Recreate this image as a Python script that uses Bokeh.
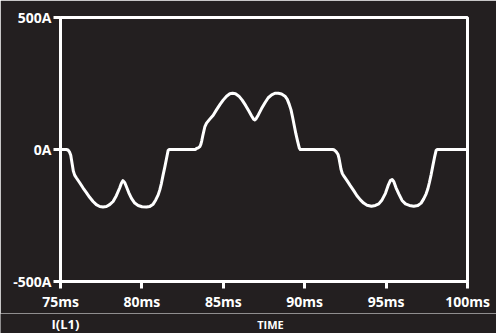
from bokeh.plotting import figure
from bokeh.layouts import column
from bokeh.models import Range1d, FixedTicker
from bokeh.core.properties import value
from bokeh.embed import file_html
from bokeh.resources import INLINE

# Inductor current I(L1) versus time (ms, A)
time_ms = [
    75.0, 75.36, 75.46, 75.56, 75.63, 75.67, 75.73, 75.79, 75.87, 75.97,
    76.18, 76.38, 76.59, 76.79, 77.0, 77.20, 77.41, 77.61, 77.82, 78.02,
    78.23, 78.43, 78.64, 78.74, 78.84, 78.95, 79.05, 79.19, 79.36, 79.56,
    79.77, 80.01, 80.28, 80.48, 80.69, 80.85, 81.0, 81.10, 81.20, 81.30,
    81.41, 81.51, 81.61, 81.67,
    83.29, 83.35, 83.46, 83.56, 83.62, 83.68, 83.74, 83.81, 83.87, 83.97,
    84.17, 84.38, 84.58, 84.79, 84.99, 85.20, 85.40, 85.57, 85.75, 85.96,
    86.16, 86.37, 86.57, 86.74, 86.86, 86.94, 87.02, 87.15, 87.35, 87.56,
    87.76, 87.97, 88.17, 88.38, 88.58, 88.79, 88.93, 89.05, 89.16, 89.26,
    89.36, 89.46, 89.57, 89.67, 89.73,
    91.72, 91.82, 91.94, 92.05, 92.11, 92.17, 92.23, 92.31, 92.42, 92.60,
    92.80, 93.01, 93.21, 93.42, 93.62, 93.83, 94.10, 94.34, 94.55, 94.75,
    94.96, 95.12, 95.26, 95.37, 95.47, 95.61, 95.78, 95.98, 96.19, 96.43,
    96.70, 96.95, 97.15, 97.31, 97.46, 97.56, 97.66, 97.77, 97.87, 97.97,
    98.07, 98.13, 100.0,
]
current_a = [
    0, 0, -2, -10, -22, -37, -60, -82, -97, -107,
    -126, -145, -163, -181, -197, -209, -216, -218, -216, -209,
    -197, -175, -145, -128, -118, -126, -141, -163, -185, -203,
    -212, -217, -218, -216, -207, -191, -172, -153, -128, -97,
    -66, -35, -4, 0,
    0, 4, 6, 11, 19, 34, 52, 71, 87, 100,
    115, 130, 150, 170, 187, 202, 211, 213, 211, 202,
    187, 167, 146, 127, 115, 112, 117, 131, 155, 177,
    196, 207, 213, 213, 210, 202, 190, 171, 150, 121,
    90, 59, 30, 5, 0,
    0, -2, -9, -19, -34, -54, -75, -91, -102, -118,
    -137, -156, -175, -191, -203, -211, -215, -212, -206, -191,
    -166, -137, -118, -114, -121, -145, -168, -193, -206, -212,
    -215, -212, -203, -187, -168, -150, -125, -94, -62, -31,
    -4, 0, 0,
]

x_ticks = [75, 80, 85, 90, 95, 100]
x_tick_labels = ["75ms", "80ms", "85ms", "90ms", "95ms", "100ms"]
y_ticks = [-500, 0, 500]
y_tick_labels = ["-500A", "0A", "500A"]

# Captions under the plot: trace name and x quantity
captions = ["I(L1)", "TIME"]
caption_x = [65, 270]
caption_y = [10, 9]
caption_size = ["13px", "11px"]

BG = "#231f20"
FG = "#ffffff"
FONT = "Open Sans"

p = figure(width=496, height=313, output_backend="svg", toolbar_location=None,
           x_range=Range1d(75, 100), y_range=Range1d(-500, 500),
           min_border_left=60, min_border_right=29, min_border_top=17,
           min_border_bottom=29)
p.frame_align = False
p.background_fill_color = BG
p.border_fill_color = BG
p.outline_line_color = FG
p.outline_line_width = 3
p.grid.visible = False

p.xaxis.ticker = FixedTicker(ticks=x_ticks)
p.xaxis.major_label_overrides = dict(zip(x_ticks, x_tick_labels))
p.yaxis.ticker = FixedTicker(ticks=y_ticks)
p.yaxis.major_label_overrides = dict(zip(y_ticks, y_tick_labels))

for ax in (p.xaxis, p.yaxis):
    ax.axis_line_color = FG
    ax.axis_line_width = 3
    ax.major_tick_line_color = FG
    ax.major_tick_line_width = 3
    ax.major_tick_out = 7
    ax.major_tick_in = 0
    ax.minor_tick_line_color = None
    ax.major_label_text_color = FG
    ax.major_label_text_font = FONT
    ax.major_label_text_font_style = "bold"
    ax.major_label_text_font_size = "14px"
p.xaxis.major_label_standoff = 3
p.yaxis.major_label_standoff = 2

p.line(time_ms, current_a, line_color=FG, line_width=3, line_join="round")

# Caption strip: a bare figure whose data space is its own pixel grid
q = figure(width=496, height=20, output_backend="svg", toolbar_location=None,
           x_range=Range1d(0, 496), y_range=Range1d(0, 20),
           min_border=0, min_border_left=0, min_border_right=0,
           min_border_top=0, min_border_bottom=0,
           x_axis_type=None, y_axis_type=None)
q.frame_align = False
q.background_fill_color = BG
q.border_fill_color = BG
q.outline_line_color = None
q.grid.visible = False
q.text(x=caption_x, y=caption_y, text=captions, text_color=FG,
       text_font=value(FONT), text_font_style="bold",
       text_font_size=caption_size,
       text_align="center", text_baseline="middle")

open("out.html", "w").write(file_html(column(p, q, spacing=0), INLINE))
